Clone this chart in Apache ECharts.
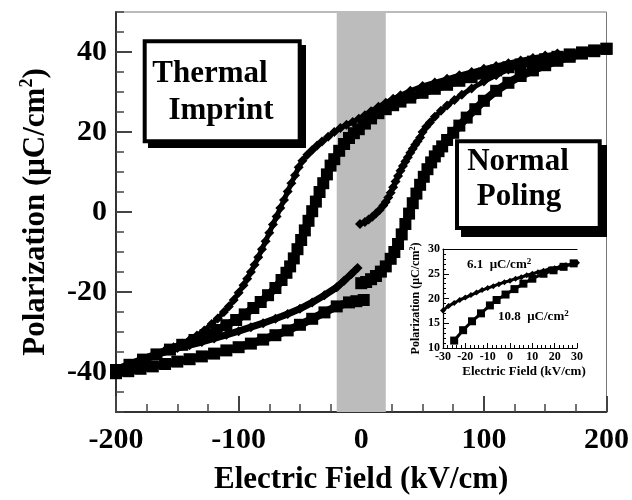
<!DOCTYPE html>
<html>
<head>
<meta charset="utf-8">
<script src="https://cdn.jsdelivr.net/npm/echarts@6/dist/echarts.min.js"></script>
<style>html,body{margin:0;padding:0;background:#fff}#c{width:632px;height:500px}</style>
</head>
<body>
<div id="c"></div>
<script>
// ---- main loop data (E in kV/cm, P in uC/cm2) ----
// square loop, descending branch
const sqUpE = [200,190,180,170,160,150,140,130,120,110,100,90,80,70,60,50,40,32,26,20,14,8,3,-2,-6,-10,-14,-18,-22,-25,-28,-31,-34,-37,-40,-43,-46,-49,-52,-55,-58,-61,-65,-70,-76,-82,-88,-95,-102,-110,-118,-127,-136,-146,-156,-167,-178,-189,-200];
const sqUpP = [40.8,40.4,39.9,39.4,38.8,38.2,37.6,36.9,36.2,35.4,34.6,33.7,32.8,31.8,30.8,29.8,28.6,27.6,26.7,25.7,24.7,23.4,22.1,20.7,19.7,18.5,17,15.3,13.2,11.6,9.4,7.2,5,2.6,0.2,-2.2,-4.6,-7,-9.3,-11.6,-13.6,-15.2,-17,-19,-20.8,-22.5,-24,-25.6,-27,-28.3,-29.5,-30.8,-32,-33.2,-34.4,-35.6,-36.9,-38.2,-39.5];
// square loop, ascending branch (before the gap)
const sqLowE = [-200,-190,-180,-170,-160,-150,-140,-130,-120,-110,-100,-90,-80,-70,-60,-50,-40,-30,-20,-10,-4,2];
const sqLowP = [-40.3,-39.8,-39.2,-38.6,-38,-37.4,-36.8,-36.1,-35.4,-34.6,-33.8,-32.9,-31.9,-30.8,-29.6,-28.2,-26.7,-25.1,-23.6,-22.6,-22.3,-22];
// square loop, ascending branch (after the gap)
const sqRiseE = [0,4,8,12,16,20,24,27,30,33,36,39,42,45,48,51,54,57,60,63,66,70,75,80,86,93,100,110,120,130,140,150,160,170,180,190,200];
const sqRiseP = [-17.8,-17.5,-16.8,-16,-14.9,-13.6,-11.7,-10,-8,-5.6,-3,-0.4,2.2,4.6,6.8,8.8,10.7,12.4,13.9,15.2,16.4,18,19.8,21.6,23.6,25.7,27.8,30.3,32.3,34,35.4,36.7,37.8,38.8,39.6,40.2,40.8];
// diamond loop, descending branch
const diUpE = [160,150,140,130,120,110,100,90,80,70,60,50,40,32,26,20,14,8,3,-2,-7,-12,-17,-22,-27,-32,-36,-40,-44,-48,-51,-54,-57,-60,-63,-66,-69,-72,-75,-78,-81,-84,-87,-90,-93,-96,-100,-104,-108,-112,-117,-122,-128,-134,-140,-146,-153,-160];
const diUpP = [39.6,39.1,38.5,37.9,37.2,36.5,35.8,35,34.2,33.3,32.4,31.5,30.3,29.2,28.3,27.3,26.3,25.2,24.2,23.3,22.5,21.8,21,20,18.8,17.6,16.6,15.5,14.3,12.8,11.2,9.2,7.2,5.1,3,1,-1.1,-3.1,-5.2,-7.3,-9.3,-11.3,-13.2,-15,-16.7,-18.3,-20.2,-22,-23.6,-25,-26.6,-28,-29.6,-30.9,-32,-32.9,-33.8,-34.6];
// diamond loop, ascending branch (before the gap)
const diLowE = [-160,-150,-140,-130,-120,-110,-100,-90,-80,-70,-60,-50,-40,-30,-20,-14,-8,-3];
const diLowP = [-34.6,-34,-33.3,-32.5,-31.6,-30.7,-29.8,-28.8,-27.8,-26.7,-25.5,-24.2,-22.6,-20.8,-18.8,-17.2,-15.5,-14];
// diamond loop, ascending branch (after the gap)
const diRiseE = [-1,3,6,9,12,15,18,20,22,24,26,28,30,32,34,36,38,40,42,44,46,48,50,53,56,60,65,70,76,82,90,100,110,120,130,140,150,160];
const diRiseP = [-3,-2.5,-1.9,-1.2,-0.4,0.5,1.6,2.5,3.6,4.8,6.2,7.6,9,10.3,11.5,12.6,13.7,14.8,15.8,16.8,17.7,18.6,20,21.3,22.4,23.8,25.3,26.6,28,29.3,30.9,32.6,34.2,35.6,36.8,37.8,38.7,39.5];
// shaded field window
const bandRange = [-20, 20];
// axis ticks
const mainXTicks = [-200,-100,0,100,200];
const mainYTicks = [-40,-20,0,20,40];

// ---- inset data ----
const inDiE = [-30,-27.5,-25,-22.5,-20,-17.5,-15,-12.5,-10,-7.5,-5,-2.5,0,2.5,5,7.5,10,12.5,15,17.5,20,22.5,25,27.5,30];
const inDiP = [17.6,18.5,19.1,19.7,20.2,20.7,21.2,21.7,22.1,22.5,22.9,23.3,23.6,24,24.3,24.7,25,25.3,25.6,25.9,26.1,26.4,26.7,26.9,27.2];
const inSqE = [-25,-21,-17,-13,-9,-6,-2,2,6,10,15,19.5,24,28.5];
const inSqP = [11.5,13.6,15.4,17,18.6,19.7,20.8,21.9,23,24,25,25.7,26.4,27.1];
const inXTicks = [-30,-20,-10,0,10,20,30];
const inYTicks = [10,15,20,25,30];

const pairs = (xs, ys) => xs.map((x, i) => [x, ys[i]]);
const SERIF = "'Liberation Serif','Times New Roman',serif";

function sqSeries(xs, ys) {
  return { type:'line', xAxisIndex:0, yAxisIndex:0, data:pairs(xs, ys), symbol:'rect', symbolSize:12,
    itemStyle:{color:'#000'}, lineStyle:{color:'#000', width:8}, z:5, animation:false };
}
function diSeries(xs, ys, w) {
  return { type:'line', xAxisIndex:0, yAxisIndex:0, data:pairs(xs, ys), symbol:'diamond', symbolSize:10,
    itemStyle:{color:'#000'}, lineStyle:{color:'#000', width:w}, z:6, animation:false };
}

const chart = echarts.init(document.getElementById('c'), null, {renderer:'canvas'});
const option = {
  animation:false,
  backgroundColor:'#fff',
  grid:[
    {left:116, top:12, width:493, height:400, show:true, borderColor:'#777', borderWidth:1, backgroundColor:'#fff'},
    {left:443, top:249, width:134, height:99, show:true, borderWidth:0, backgroundColor:'#fff', z:10}
  ],
  xAxis:[
    {gridIndex:0, type:'value', min:-200, max:200, interval:100,
      axisLine:{onZero:false, lineStyle:{color:'#333', width:2}},
      axisTick:{inside:true, length:16, lineStyle:{color:'#444', width:2}},
      minorTick:{show:true, splitNumber:4, length:8, lineStyle:{color:'#444', width:1.5}},
      splitLine:{show:false},
      axisLabel:{customValues:mainXTicks, color:'#000', fontFamily:SERIF, fontWeight:'bold', fontSize:30, margin:13},
      name:'Electric Field (kV/cm)', nameLocation:'middle', nameGap:52,
      nameTextStyle:{color:'#000', fontFamily:SERIF, fontWeight:'bold', fontSize:31}},
    {gridIndex:1, type:'value', min:-30, max:30, interval:10, z:11,
      axisLine:{onZero:false, lineStyle:{color:'#000', width:1.2}},
      axisTick:{inside:true, length:5, lineStyle:{color:'#000'}},
      minorTick:{show:true, splitNumber:5, length:3, lineStyle:{color:'#000'}},
      splitLine:{show:false},
      axisLabel:{customValues:inXTicks, color:'#000', fontFamily:SERIF, fontWeight:'bold', fontSize:12, margin:3},
      name:'Electric Field (kV/cm)', nameLocation:'middle', nameGap:17,
      nameTextStyle:{color:'#000', fontFamily:SERIF, fontWeight:'bold', fontSize:13, padding:[0,0,0,28]}},
    {gridIndex:1, type:'value', position:'top', min:-30, max:30, z:11,
      axisLine:{onZero:false, lineStyle:{color:'#000', width:1.2}}, axisTick:{show:false}, axisLabel:{show:false}, splitLine:{show:false}}
  ],
  yAxis:[
    {gridIndex:0, type:'value', position:'left', min:-50, max:50, interval:5,
      axisLine:{show:true, onZero:false, lineStyle:{color:'#333', width:2}},
      axisTick:{inside:true, length:8, lineStyle:{color:'#444', width:1.5}},
      axisLabel:{show:false}, splitLine:{show:false},
      name:'{a|Polarization (μC/cm}{s|2}{a|)}', nameLocation:'middle', nameGap:62, nameRotate:90,
      nameTextStyle:{color:'#000', rich:{
        a:{fontFamily:SERIF, fontWeight:'bold', fontSize:31, lineHeight:36, color:'#000'},
        s:{fontFamily:SERIF, fontWeight:'bold', fontSize:18, lineHeight:36, verticalAlign:'top', color:'#000'}}}},
    {gridIndex:0, type:'value', position:'left', min:-50, max:50, interval:10,
      axisLine:{show:false, onZero:false},
      axisTick:{inside:true, length:16, customValues:mainYTicks, lineStyle:{color:'#444', width:2}},
      axisLabel:{customValues:mainYTicks, color:'#000', fontFamily:SERIF, fontWeight:'bold', fontSize:30, margin:9},
      splitLine:{show:false}},
    {gridIndex:1, type:'value', position:'left', min:10, max:30, interval:5, z:11,
      axisLine:{show:true, onZero:false, lineStyle:{color:'#000', width:1.2}},
      axisTick:{inside:true, length:6, lineStyle:{color:'#000'}},
      minorTick:{show:true, splitNumber:5, length:3, lineStyle:{color:'#000'}},
      axisLabel:{customValues:inYTicks, color:'#000', fontFamily:SERIF, fontWeight:'bold', fontSize:12, margin:3},
      splitLine:{show:false},
      name:'{a|Polarization (μC/cm}{s|2}{a|)}', nameLocation:'middle', nameGap:20, nameRotate:90,
      nameTextStyle:{color:'#000', rich:{
        a:{fontFamily:SERIF, fontWeight:'bold', fontSize:12, lineHeight:14, color:'#000'},
        s:{fontFamily:SERIF, fontWeight:'bold', fontSize:8, lineHeight:14, verticalAlign:'top', color:'#000'}}}}
  ],
  series:[
    {type:'line', xAxisIndex:0, yAxisIndex:0, data:[], z:1, silent:true,
      markArea:{silent:true, itemStyle:{color:'#bcbcbc'},
        data:[[{xAxis:bandRange[0], yAxis:-50},{xAxis:bandRange[1], yAxis:50}]]}},
    sqSeries(sqUpE, sqUpP),
    sqSeries(sqLowE, sqLowP),
    sqSeries(sqRiseE, sqRiseP),
    diSeries(diUpE, diUpP, 5),
    diSeries(diLowE, diLowP, 7),
    diSeries(diRiseE, diRiseP, 5),
    {type:'line', xAxisIndex:1, yAxisIndex:2, data:[], z:11, silent:true,
      markArea:{silent:true, itemStyle:{color:'#bdbdbd'},
        data:[[{xAxis:bandRange[0], yAxis:10},{xAxis:bandRange[1], yAxis:30}]]}},
    {type:'line', xAxisIndex:1, yAxisIndex:2, data:pairs(inDiE, inDiP), symbol:'diamond', symbolSize:6,
      itemStyle:{color:'#000'}, lineStyle:{color:'#000', width:3}, z:12},
    {type:'line', xAxisIndex:1, yAxisIndex:2, data:pairs(inSqE, inSqP), symbol:'rect', symbolSize:8,
      itemStyle:{color:'#000'}, lineStyle:{color:'#000', width:3}, z:12}
  ],
  graphic:[
    // Thermal Imprint box
    {type:'rect', shape:{x:148, y:45, width:158, height:103}, style:{fill:'#000'}, z:50},
    {type:'rect', shape:{x:144.7, y:41.3, width:155, height:100}, style:{fill:'#fff', stroke:'#000', lineWidth:4}, z:51},
    {type:'text', x:210, y:74, style:{text:'Thermal', fill:'#000', font:"bold 31px 'Liberation Serif', serif", align:'center', verticalAlign:'middle'}, z:52},
    {type:'text', x:221, y:111, style:{text:'Imprint', fill:'#000', font:"bold 31px 'Liberation Serif', serif", align:'center', verticalAlign:'middle'}, z:52},
    // Normal Poling box
    {type:'rect', shape:{x:461, y:145, width:146, height:92}, style:{fill:'#000'}, z:50},
    {type:'rect', shape:{x:457, y:141.3, width:142.7, height:86.7}, style:{fill:'#fff', stroke:'#000', lineWidth:4}, z:51},
    {type:'text', x:518, y:162, style:{text:'Normal', fill:'#000', font:"bold 31px 'Liberation Serif', serif", align:'center', verticalAlign:'middle'}, z:52},
    {type:'text', x:519, y:197, style:{text:'Poling', fill:'#000', font:"bold 31px 'Liberation Serif', serif", align:'center', verticalAlign:'middle'}, z:52},
    // inset annotations
    {type:'text', x:467, y:265, z:60, style:{text:'{a|6.1  μC/cm}{s|2}', verticalAlign:'middle', align:'left',
      rich:{a:{fontFamily:SERIF, fontWeight:'bold', fontSize:13, lineHeight:16, fill:'#000'},
            s:{fontFamily:SERIF, fontWeight:'bold', fontSize:9, lineHeight:16, verticalAlign:'top', fill:'#000'}}}},
    {type:'text', x:498, y:317, z:60, style:{text:'{a|10.8  μC/cm}{s|2}', verticalAlign:'middle', align:'left',
      rich:{a:{fontFamily:SERIF, fontWeight:'bold', fontSize:13, lineHeight:16, fill:'#000'},
            s:{fontFamily:SERIF, fontWeight:'bold', fontSize:9, lineHeight:16, verticalAlign:'top', fill:'#000'}}}}
  ]
};
chart.setOption(option);
</script>
</body>
</html>
